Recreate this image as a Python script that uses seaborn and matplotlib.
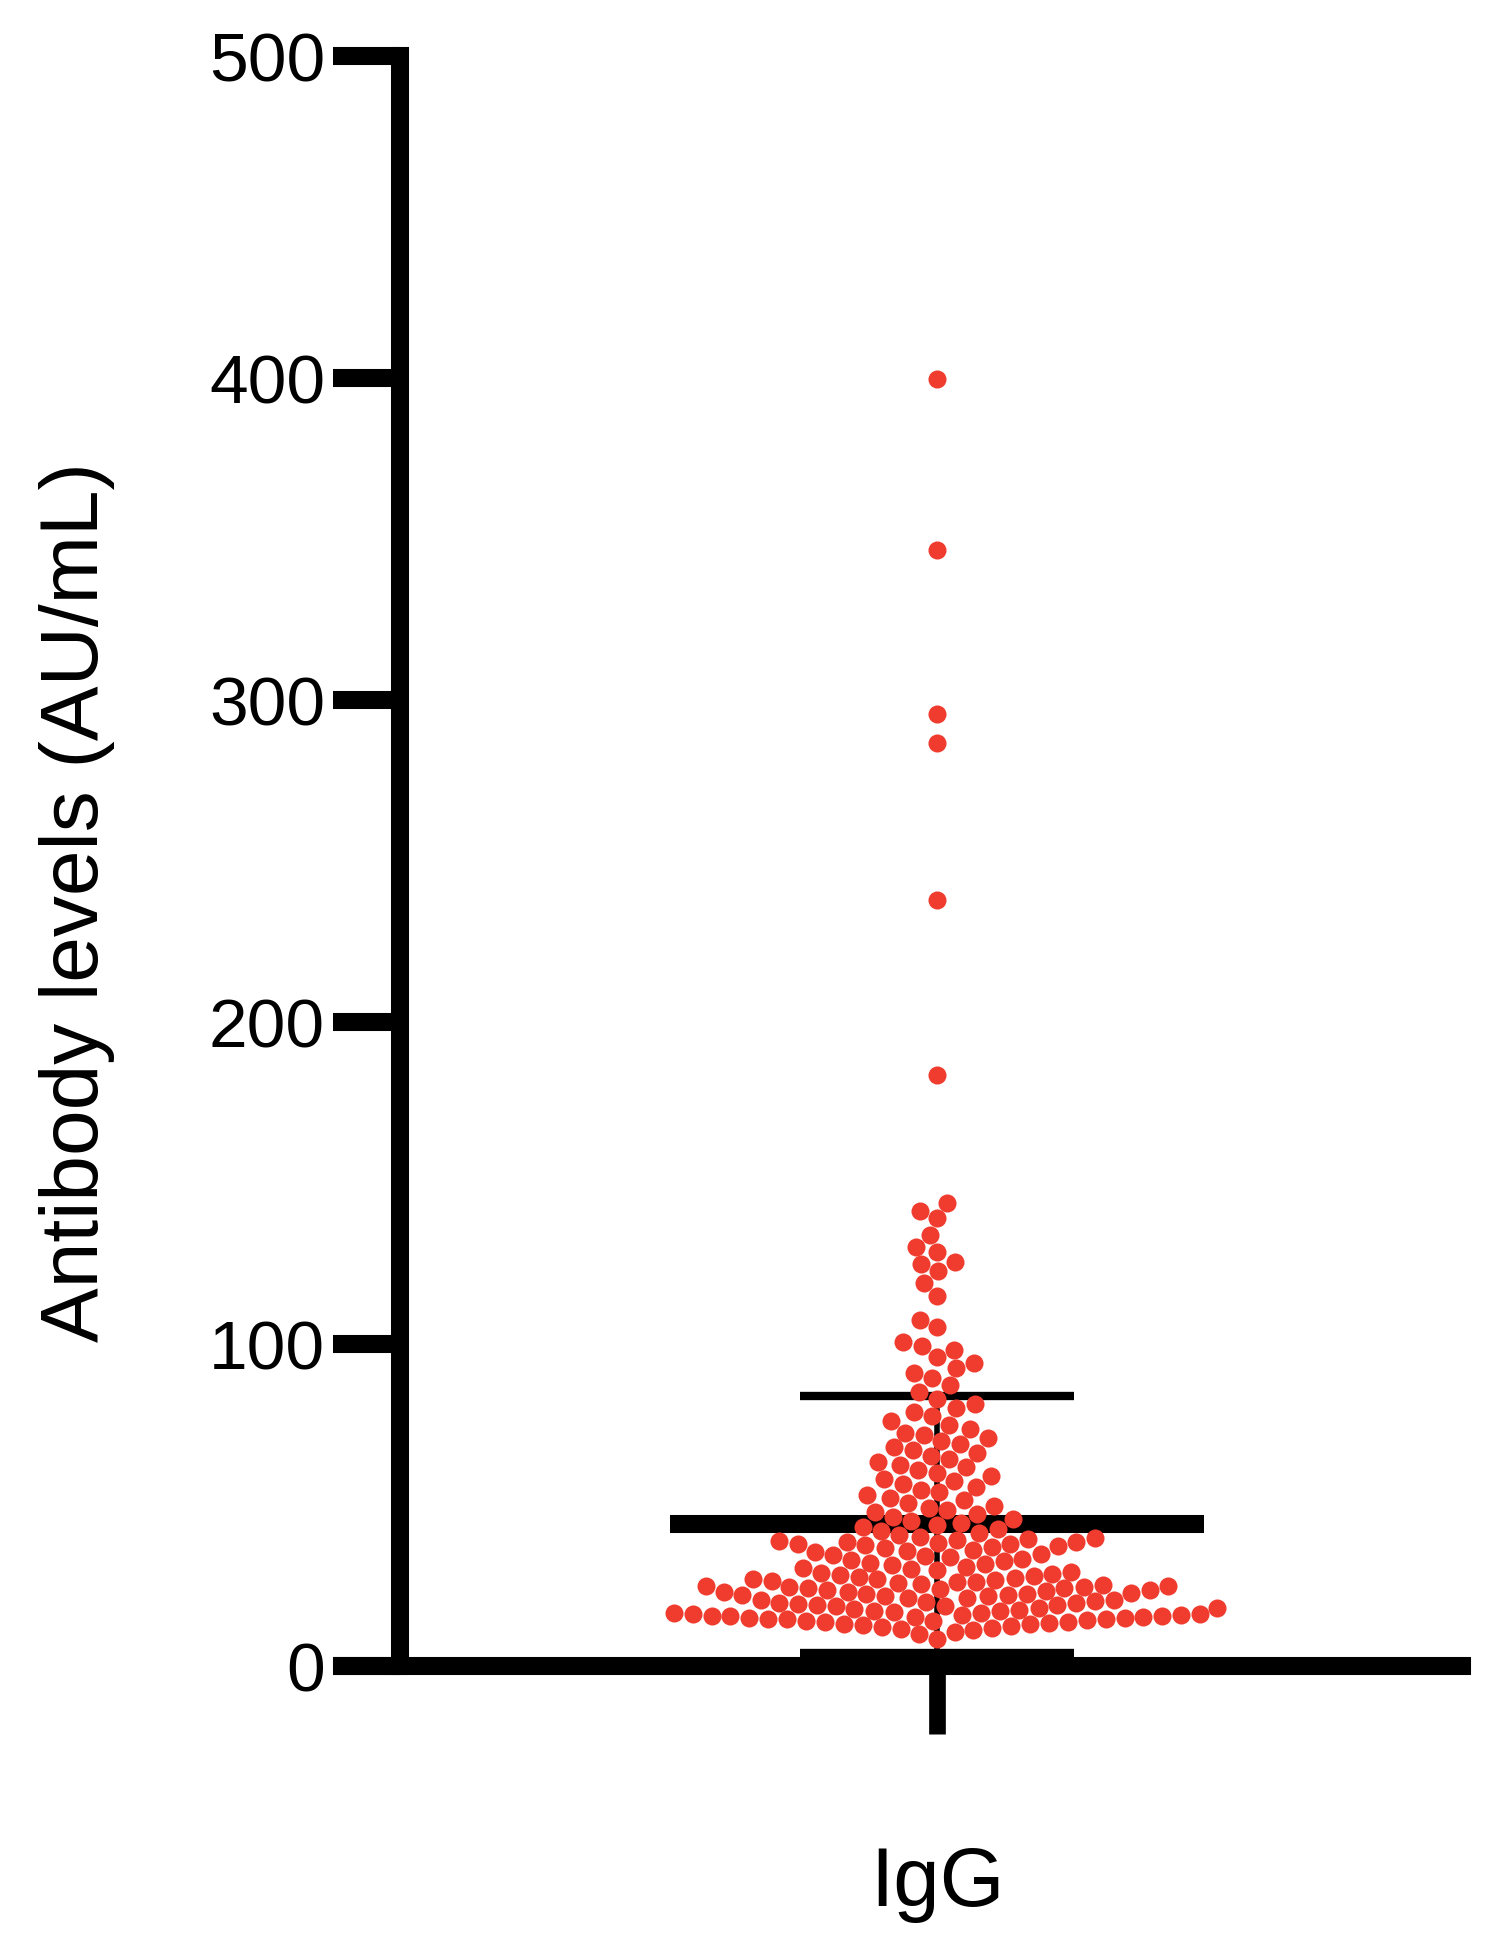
import pandas as pd
import matplotlib
matplotlib.use('Agg')
import matplotlib.pyplot as plt
import seaborn as sns

# IgG antibody levels (AU/mL)
igg_levels = [
    8.5, 9.8, 10.6, 11.2, 11.6, 11.9, 12.1, 12.4, 12.7,
    13.0, 13.1, 13.4, 13.6, 13.8, 14.0, 14.1, 14.3, 14.5, 14.6, 14.7, 14.9, 15.0, 15.1, 15.3, 15.4, 15.5, 15.6, 15.8, 15.9,
    16.0, 16.1, 16.4, 16.6, 16.9, 17.0, 17.2, 17.5, 17.7, 18.0, 18.1, 18.5, 18.7, 18.9,
    19.0, 19.2, 19.5, 19.6, 20.0, 20.1, 20.5, 20.6, 21.0, 21.2, 21.6, 21.8, 21.9,
    22.1, 22.3, 22.5, 22.7, 22.9, 23.1, 23.3, 23.5, 23.7, 23.9, 24.1, 24.2, 24.4, 24.6, 24.9,
    25.0, 25.2, 25.5, 25.8, 26.0, 26.1, 26.4, 26.7, 26.9, 27.0, 27.3, 27.6, 27.9, 28.2, 28.6, 29.0, 29.3, 29.7,
    30.1, 30.5, 30.9, 31.3, 31.7,
    32.1, 32.5, 32.9, 33.3, 33.7, 34.1, 34.5, 34.9, 35.3, 35.7, 36.1, 36.5, 36.9, 37.2, 37.5, 37.8,
    38.0, 38.2, 38.4, 38.6, 38.8, 39.0, 39.3, 39.6,
    40.2, 40.8, 41.4, 42.0, 42.6, 43.2, 43.9, 44.5, 45.1, 45.8, 46.4, 47.1, 47.8, 48.5, 49.2, 49.8,
    50.6, 51.4, 52.2, 53.0, 53.9, 54.7, 55.5, 56.4, 57.3, 58.1, 59.0, 59.9, 60.8, 61.7,
    62.5, 63.4, 64.3, 65.2, 66.1, 67.0, 67.9, 68.8, 69.8, 70.7, 71.6, 72.5,
    73.6, 74.9, 76.2, 77.5, 78.8, 80.1, 81.4,
    83.0, 85.1, 87.2, 89.3,
    90.9, 92.5, 94.1, 96.0, 98.2, 99.4, 100.6,
    105.2, 107.4, 114.8, 118.9, 122.6, 124.8, 125.5, 128.7, 130.2, 133.9, 139.1, 141.3, 143.8,
    183.5, 237.9, 286.8, 295.7, 346.6, 399.8,
]
group_name = 'IgG'

# mean and SD as drawn on the figure
mean_level = 44
sd_level = 40

y_ticks = [0, 100, 200, 300, 400, 500]

df = pd.DataFrame({'isotype': group_name, 'level': igg_levels})

sns.set_style('white')
plt.rcParams['font.family'] = ['Liberation Sans', 'DejaVu Sans']

fig = plt.figure(figsize=(14.98, 19.46), dpi=100)
ax = fig.add_axes([342 / 1498, 280 / 1946, 1120 / 1498, 1610 / 1946])

# error bars sit behind the dots
ax.hlines(mean_level, -0.381, 0.381, color='black', linewidth=13, zorder=1)
ax.vlines(0, mean_level - sd_level, mean_level + sd_level, color='black', linewidth=4, zorder=1)
ax.hlines([mean_level - sd_level, mean_level + sd_level], -0.196, 0.196, color='black', linewidth=6, zorder=1)

sns.swarmplot(data=df, x='isotype', y='level', color='#F03C2E', size=13,
              linewidth=0, ax=ax, zorder=3, clip_on=False)

ax.set_xlim(-0.85, 0.75)
ax.set_ylim(0, 500)
ax.set_yticks(y_ticks)

sns.despine(ax=ax)
ax.spines['left'].set_position(('axes', 0.0518))
for side in ['left', 'bottom']:
    ax.spines[side].set_linewidth(13)
    ax.spines[side].set_color('black')

ax.tick_params(axis='y', direction='out', length=48, width=13, pad=6, labelsize=50,
               left=True, color='black', labelcolor='black')
ax.tick_params(axis='x', direction='out', length=49, width=12, pad=80, labelsize=60,
               bottom=True, color='black', labelcolor='black')

ax.set_xlabel('')
ax.set_ylabel('Antibody levels (AU/mL)', fontsize=59, color='black')
ax.yaxis.set_label_coords(-0.203, 0.4745)

fig.savefig('out.png', dpi=100)
